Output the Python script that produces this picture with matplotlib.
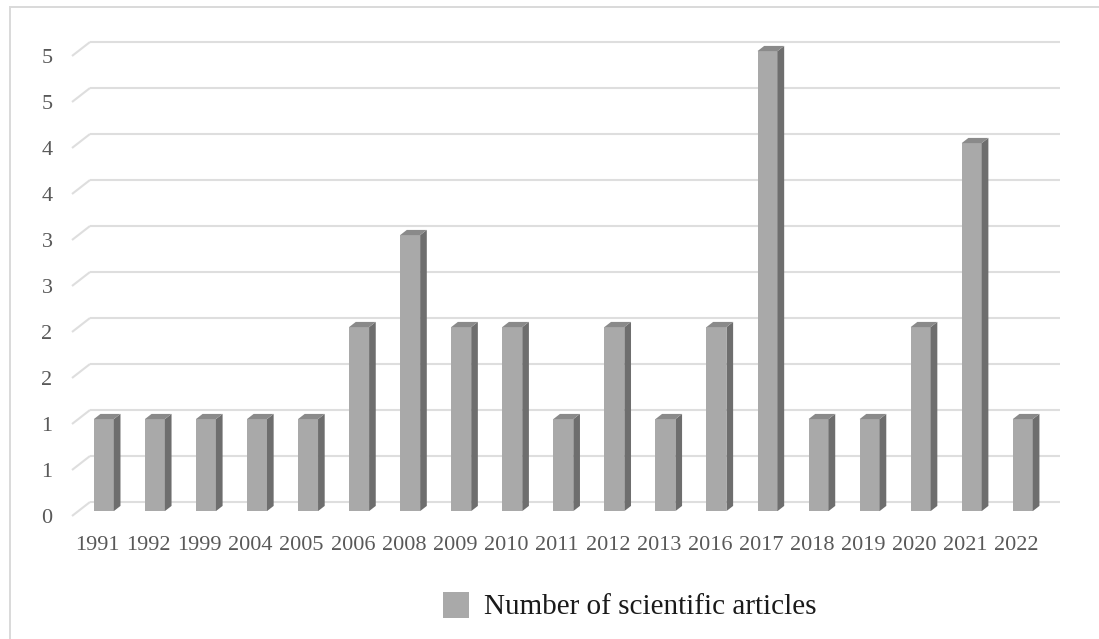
import matplotlib
matplotlib.use("Agg")
import matplotlib.pyplot as plt
import numpy as np
from matplotlib.patches import Polygon, Rectangle

years = ["1991", "1992", "1999", "2004", "2005", "2006", "2008", "2009", "2010", "2011",
         "2012", "2013", "2016", "2017", "2018", "2019", "2020", "2021", "2022"]
articles = [1, 1, 1, 1, 1, 2, 3, 2, 2, 1, 2, 1, 2, 5, 1, 1, 2, 4, 1]
ytick_values = [0, 0.5, 1, 1.5, 2, 2.5, 3, 3.5, 4, 4.5, 5]
ytick_labels = ["0", "1", "1", "2", "2", "3", "3", "4", "4", "5", "5"]
series_name = "Number of scientific articles"

plt.rcParams['font.family'] = ['Liberation Serif', 'DejaVu Serif']

W, H = 1099, 639
fig = plt.figure(figsize=(W / 100, H / 100), dpi=100)
fig.patch.set_facecolor("white")

# chart border (light gray)
fig.add_artist(Rectangle((10 / W, -0.1), 1.2, 1.1 - 7 / H, transform=fig.transFigure,
                         fill=False, edgecolor="#d9d9d9", lw=1.4))

ax_l, ax_b, ax_w, ax_h = 72, 123, 970, 460
ax = fig.add_axes([ax_l / W, ax_b / H, ax_w / W, ax_h / H])
n = len(years)
ax.set_xlim(-0.5, n - 0.5)
ax.set_ylim(0, 5)
for s in ax.spines.values():
    s.set_visible(False)
ax.set_facecolor("none")

# depth offsets (pixel -> data units)
px_x = n / ax_w
px_y = 5 / ax_h
DX = 18 * px_x
DY = 14 * px_y

grid_c = "#dedede"
for v in ytick_values:
    ax.plot([-0.5 + DX, n - 0.5 + DX], [v + DY, v + DY], color=grid_c, lw=1.5,
            clip_on=False, zorder=1, solid_capstyle="butt")
    ax.plot([-0.5, -0.5 + DX], [v, v + DY], color=grid_c, lw=1.5,
            clip_on=False, zorder=1, solid_capstyle="butt")

# bars
bw = 20 / (ax_w / n)
d0 = 0.35
d1 = 0.72
x = np.arange(n)
front_c = "#a9a9a9"
side_c = "#6e6e6e"
top_c = "#8a8a8a"
bars = ax.bar(x + d0 * DX, articles, width=bw, bottom=d0 * DY, color=front_c,
              edgecolor="none", zorder=3)
for b in bars:
    b.set_clip_on(False)
for i, v in enumerate(articles):
    xl = i - bw / 2 + d0 * DX
    xr = i + bw / 2 + d0 * DX
    yb = d0 * DY
    yt = v + d0 * DY
    ddx = (d1 - d0) * DX
    ddy = (d1 - d0) * DY
    ax.add_patch(Polygon([(xr, yb), (xr + ddx, yb + ddy), (xr + ddx, yt + ddy), (xr, yt)],
                         closed=True, facecolor=side_c, edgecolor="none", zorder=3,
                         clip_on=False))
    ax.add_patch(Polygon([(xl, yt), (xr, yt), (xr + ddx, yt + ddy), (xl + ddx, yt + ddy)],
                         closed=True, facecolor=top_c, edgecolor="none", zorder=3,
                         clip_on=False))

ax.set_xticks(x)
ax.set_xticklabels(years)
ax.set_yticks(ytick_values)
ax.set_yticklabels(ytick_labels)
ax.tick_params(axis="both", length=0, labelsize=16, labelcolor="#595959")
ax.tick_params(axis="y", pad=14)
ax.tick_params(axis="x", pad=14.5)

# legend
fig.add_artist(Rectangle((443 / W, 1 - 618 / H), 26 / W, 26 / H, transform=fig.transFigure,
                         facecolor=front_c, edgecolor="none"))
fig.text(484 / W, 1 - 607 / H, series_name, fontsize=21, color="#1a1a1a",
         va="center", ha="left")

fig.savefig("out.png", dpi=100, facecolor="white")
